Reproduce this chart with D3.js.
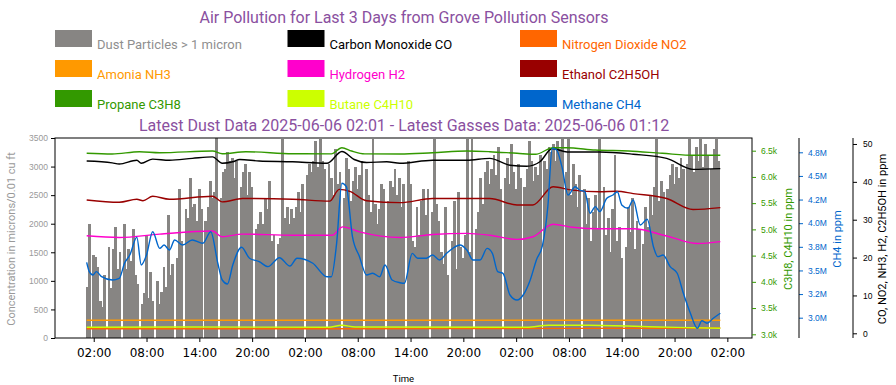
<!DOCTYPE html>
<html>
<head>
<meta charset="utf-8">
<script src="https://cdn.jsdelivr.net/npm/d3@7"></script>
<style>
body { margin: 0; background: #fff; }
</style>
</head>
<body>
<div id="chart"></div>
<script>
// first sample of the 3 day window, bars every 15 minutes
const startTime = new Date(2025, 5, 3, 1, 12);
const dustStepHours = 0.25;

const titleText = "Air Pollution for Last 3 Days from Grove Pollution Sensors";
const subtitleText = "Latest Dust Data 2025-06-06 02:01 - Latest Gasses Data: 2025-06-06 01:12";

const legendNames = ["Dust Particles > 1 micron", "Carbon Monoxide CO", "Nitrogen Dioxide NO2",
                     "Amonia NH3", "Hydrogen H2", "Ethanol C2H5OH",
                     "Propane C3H8", "Butane C4H10", "Methane CH4"];
const legendColors = ["#878583", "#000000", "#ff6600",
                      "#ff9900", "#ff00cc", "#990000",
                      "#339900", "#ccff00", "#0066cc"];
const legendTextColors = ["#8f8f8f", "#000000", "#ff6600",
                          "#ff9900", "#ff00cc", "#990000",
                          "#339900", "#ccff00", "#0066cc"];

// dust concentration (microns/0.01 cu ft), 0 = missing sample
const dustValues = [
  900, 2000, 0, 1450, 1420, 1250, 640, 540, 1100, 0, 1600, 870,
  1560, 1950, 1200, 1500, 0, 2000, 1200, 1550, 1350, 1900, 1100, 950,
  0, 600, 780, 1800, 700, 1150, 650, 0, 1000, 600, 800, 1250,
  900, 2150, 1100, 1300, 0, 1400, 2600, 1700, 0, 2250, 2100, 2800,
  2300, 2350, 2050, 2600, 2250, 0, 2050, 2300, 2750, 2450, 2550, 3500,
  0, 2450, 2900, 2950, 3250, 3100, 3150, 2800, 3100, 0, 2650, 2900,
  3050, 2500, 2900, 2650, 0, 1900, 2000, 2200, 2000, 2450, 2250, 2750,
  1700, 1800, 0, 1650, 1750, 3480, 2100, 2300, 2000, 2250, 2100, 2300,
  2550, 2200, 2700, 0, 2850, 3050, 2900, 3100, 3450, 3000, 3480, 3100,
  2950, 0, 3050, 2800, 2500, 3300, 2700, 2900, 0, 2450, 3150, 2950,
  2400, 2750, 3000, 2600, 2850, 3100, 0, 2950, 2500, 2200, 3480, 2350,
  2000, 2250, 2700, 2600, 0, 2400, 2750, 2650, 2950, 2500, 2800, 2300,
  2700, 0, 3100, 2700, 1700, 1600, 2300, 1800, 2400, 2600, 2150, 2600,
  0, 2200, 3480, 2350, 2050, 1500, 1300, 2300, 1100, 0, 1700, 2400,
  1200, 2550, 1600, 1400, 1800, 3480, 1500, 3480, 0, 1900, 2200, 2800,
  2350, 2900, 3100, 2700, 2950, 3200, 2850, 3350, 2600, 0, 2800, 3150,
  2700, 3400, 2900, 2600, 3050, 2800, 0, 2650, 2950, 3450, 3100, 2750,
  3000, 2850, 3200, 0, 3100, 2950, 3350, 3250, 3400, 3100, 3450, 3300,
  3480, 0, 2900, 3480, 2500, 3050, 2700, 2300, 2850, 0, 2600, 2000,
  2450, 1700, 2200, 2500, 1900, 3480, 0, 2650, 1800, 2100, 1500, 2250,
  3200, 1700, 1950, 1400, 0, 1600, 2300, 1850, 2450, 1550, 2050, 1900,
  0, 1650, 2300, 1950, 2500, 2150, 2650, 3480, 2400, 2750, 2550, 0,
  2600, 2850, 3050, 2700, 3000, 2800, 3150, 2950, 0, 3050, 3480, 3200,
  2900, 3350, 3100, 3480, 3000, 3400, 3200, 0, 2950, 3300, 3480, 3100
];

// gas readings as [hours since start, ppm]
const coData = [[0,45.5],[2.9,45.0],[3.7,44.7],[5.7,45.7],[6.2,44.9],[7.5,46.0],[9.4,45.7],[12.0,46.2],
  [14.3,46.6],[15.4,44.9],[16.6,45.3],[17.4,45.9],[19.6,45.5],[23.4,45.3],[27.3,44.9],[29.0,48.0],
  [30.4,45.9],[31.8,45.1],[34.1,45.3],[35.6,44.9],[39.3,45.7],[43.2,45.7],[45.8,46.2],[48.1,44.4],
  [50.0,44.1],[51.5,45.3],[52.9,48.8],[54.6,47.9],[58.3,47.9],[62.1,47.3],[65.9,46.2],[68.9,43.3],[72,43.5]];
const no2Data = [[0,1.2],[30,1.2],[55,1.3],[72,1.4]];
const nh3Data = [[0,3.43],[72,3.43]];
const h2Data = [[0,25.75],[3.7,25.3],[8.3,26.2],[14.3,27.0],[15.4,25.5],[17.7,26.2],[23.4,25.9],[27.9,25.9],
  [29.1,28.1],[31.0,26.8],[35.6,25.3],[39.3,26.1],[43.2,26.4],[45.8,25.9],[48.9,24.8],[50.7,25.5],
  [53.0,28.8],[55.2,28.0],[58.3,27.6],[62.1,27.6],[65.9,25.7],[69.4,23.7],[72,24.2]];
const ethanolData = [[0,35.2],[3.7,34.6],[5.7,35.4],[6.4,35.0],[7.5,36.2],[9.4,35.4],[14.3,36.2],[15.4,34.7],
  [17.7,35.6],[23.4,35.4],[27.6,34.9],[28.7,38.0],[29.9,37.5],[31.8,35.0],[35.6,34.5],[39.3,35.6],
  [45.8,35.6],[48.9,33.9],[50.7,33.9],[53.0,38.7],[55.2,37.8],[58.3,37.4],[60.2,37.5],[62.1,36.9],
  [65.9,35.6],[68.9,32.7],[72,33.2]];
const propaneData = [[0,6450],[2.9,6437],[6.0,6481],[8.3,6462],[14.3,6494],[15.4,6443],[18.1,6481],[23.4,6443],
  [27.8,6440],[29.0,6557],[30.1,6494],[31.6,6440],[35.6,6437],[39.3,6462],[43.2,6494],[45.8,6481],
  [48.9,6450],[51.0,6431],[53.0,6557],[54.5,6557],[57.8,6513],[61.6,6494],[65.4,6450],[69.1,6412],[72,6412]];
const butaneData = [[0,3135],[12,3140],[27.5,3135],[29,3172],[30.5,3140],[50,3135],[52.5,3172],[57,3172],
  [65,3140],[72,3114]];
const methaneData = [[0,3.586],[0.3,3.487],[0.7,3.452],[1.1,3.487],[1.7,3.434],[2.9,3.399],[3.7,3.417],[4.3,3.576],
  [4.9,3.663],[5.7,3.851],[6.2,3.558],[6.8,3.663],[7.5,3.910],[8.3,3.734],[8.8,3.769],[9.4,3.716],
  [10.0,3.822],[10.9,3.769],[12.0,3.822],[13.2,3.787],[14.1,3.910],[14.9,3.576],[15.4,3.399],[16.0,3.357],
  [16.6,3.558],[17.6,3.745],[18.5,3.629],[19.6,3.593],[20.6,3.540],[21.9,3.635],[23.1,3.547],[23.9,3.629],
  [25.7,3.576],[27.3,3.434],[27.8,3.434],[28.4,3.787],[29.0,4.422],[29.5,4.386],[30.2,3.857],[31.0,3.646],
  [31.8,3.452],[32.5,3.470],[33.3,3.434],[33.9,3.558],[34.7,3.399],[35.6,3.370],[36.1,3.364],[37.0,3.681],
  [37.6,3.629],[38.6,3.629],[39.3,3.663],[40.1,3.611],[40.9,3.681],[41.6,3.734],[42.4,3.769],[43.2,3.716],
  [43.9,3.611],[44.7,3.611],[45.5,3.734],[46.1,3.681],[46.7,3.487],[47.3,3.470],[48.1,3.240],[48.9,3.187],
  [49.6,3.240],[50.4,3.399],[51.1,3.611],[51.8,3.769],[52.4,4.175],[52.9,4.793],[53.4,4.775],[54.0,4.598],
  [54.7,4.298],[55.5,4.386],[56.0,4.351],[56.6,4.333],[57.2,4.105],[57.8,4.175],[58.3,4.122],[59.1,4.263],
  [59.8,4.298],[60.3,4.333],[60.8,4.193],[61.5,4.158],[62.1,4.246],[62.9,3.981],[63.7,4.041],[64.4,3.751],
  [64.9,3.646],[65.5,3.663],[66.3,3.540],[67.1,3.470],[67.8,3.258],[68.6,3.047],[69.4,2.888],[69.9,2.968],
  [70.5,2.941],[71.2,2.994],[72,3.047]];

// axis ticks
const dustTicks = [0, 500, 1000, 1500, 2000, 2500, 3000, 3500];
const lpgTicks = [3000, 3500, 4000, 4500, 5000, 5500, 6000, 6500];
const lpgTickLabels = ["3.0k", "3.5k", "4.0k", "4.5k", "5.0k", "5.5k", "6.0k", "6.5k"];
const ch4Ticks = [3.0e6, 3.25e6, 3.5e6, 3.75e6, 4.0e6, 4.25e6, 4.5e6, 4.75e6];
const ch4TickLabels = ["3.0M", "3.2M", "3.5M", "3.8M", "4.0M", "4.2M", "4.5M", "4.8M"];
const gasTicks = [0, 10, 20, 30, 40, 50];

const width = 896, height = 385;
const plot = {left: 55, right: 752, top: 138, bottom: 338};
const titleColor = "#8a50a0";

const hourToTime = h => new Date(startTime.getTime() + h * 3600e3);

const svg = d3.select("#chart").append("svg")
    .attr("width", width)
    .attr("height", height)
    .style("font-family", "Roboto, sans-serif");

svg.append("defs").append("clipPath")
    .attr("id", "plotClip")
    .append("rect")
    .attr("x", plot.left).attr("y", plot.top)
    .attr("width", plot.right - plot.left).attr("height", plot.bottom - plot.top);

// scales
const x = d3.scaleTime()
    .domain([hourToTime(-3.6), hourToTime(75.6)])
    .range([plot.left, plot.right]);
const yDust = d3.scaleLinear().domain([0, 3500]).range([plot.bottom, plot.top]);
const yLpg = d3.scaleLinear().domain([2929.5, 6742]).range([plot.bottom, plot.top]);
const yCh4 = d3.scaleLinear().domain([2.7852e6, 4.9013e6]).range([plot.bottom, plot.top]);
const yGas = d3.scaleLinear().domain([-1.24, 51.58]).range([plot.bottom, plot.top]);

// titles
svg.append("text")
    .attr("x", 404).attr("y", 23)
    .attr("text-anchor", "middle")
    .style("font-size", "16px")
    .attr("fill", titleColor)
    .text(titleText);
svg.append("text")
    .attr("x", 404).attr("y", 131)
    .attr("text-anchor", "middle")
    .style("font-size", "16px")
    .attr("fill", titleColor)
    .text(subtitleText);

// legend, 3 columns
const legendCols = [55, 287.5, 520];
const legendRows = [30, 60, 90];
legendNames.forEach(function(name, i) {
    let lx = legendCols[i % 3], ly = legendRows[Math.floor(i / 3)];
    svg.append("rect")
        .attr("x", lx).attr("y", ly)
        .attr("width", 37).attr("height", 17)
        .attr("fill", legendColors[i]);
    svg.append("text")
        .attr("x", lx + 42).attr("y", ly + 18.5)
        .style("font-size", "13px")
        .attr("fill", legendTextColors[i])
        .text(name);
});

// dust bars
const barW = x(hourToTime(dustStepHours)) - x(hourToTime(0));
svg.append("g")
    .attr("clip-path", "url(#plotClip)")
    .selectAll("rect")
    .data(dustValues)
    .join("rect")
    .attr("x", (d, i) => x(hourToTime(i * dustStepHours)) - barW / 2)
    .attr("y", d => yDust(d))
    .attr("width", barW + 0.6)
    .attr("height", d => yDust(0) - yDust(d))
    .attr("fill", legendColors[0])
    .attr("shape-rendering", "crispEdges");

// gas lines
const gasSeries = [
    {data: coData, scale: yGas, color: legendColors[1]},
    {data: no2Data, scale: yGas, color: legendColors[2]},
    {data: nh3Data, scale: yGas, color: legendColors[3]},
    {data: h2Data, scale: yGas, color: legendColors[4]},
    {data: ethanolData, scale: yGas, color: legendColors[5]},
    {data: propaneData, scale: yLpg, color: legendColors[6]},
    {data: butaneData, scale: yLpg, color: legendColors[7]},
    {data: methaneData.map(d => [d[0], d[1] * 1e6]), scale: yCh4, color: legendColors[8]}
];
const lineGroup = svg.append("g").attr("clip-path", "url(#plotClip)");
gasSeries.forEach(function(s) {
    let line = d3.line()
        .x(d => x(hourToTime(d[0])))
        .y(d => s.scale(d[1]))
        .curve(d3.curveMonotoneX);
    lineGroup.append("path")
        .datum(s.data)
        .attr("d", line)
        .attr("fill", "none")
        .attr("stroke", s.color)
        .attr("stroke-width", 1.4)
        .attr("stroke-linejoin", "round");
});

// frame
svg.append("rect")
    .attr("x", plot.left).attr("y", plot.top)
    .attr("width", plot.right - plot.left).attr("height", plot.bottom - plot.top)
    .attr("fill", "none")
    .attr("stroke", "#000")
    .attr("stroke-width", 1);

// x axis
const xTicks = d3.timeHour.range(x.domain()[0], x.domain()[1]).filter(d => d.getHours() % 6 === 2);
const xAxis = svg.append("g")
    .attr("transform", `translate(0,${plot.bottom})`)
    .call(d3.axisBottom(x).tickValues(xTicks).tickFormat(d3.timeFormat("%H:%M")).tickSize(4).tickPadding(6).tickSizeOuter(0));
xAxis.select(".domain").remove();
xAxis.selectAll("text")
    .style("font-family", "'DejaVu Sans', sans-serif")
    .style("font-size", "12px")
    .attr("fill", "#000");
svg.append("text")
    .attr("x", 403.5).attr("y", 382)
    .attr("text-anchor", "middle")
    .style("font-size", "9.5px")
    .attr("fill", "#000")
    .text("Time");

// left axis (dust)
const leftAxis = svg.append("g")
    .attr("transform", `translate(${plot.left},0)`)
    .call(d3.axisLeft(yDust).tickValues(dustTicks).tickFormat(d3.format("d")).tickSize(4).tickPadding(3).tickSizeOuter(0));
leftAxis.select(".domain").remove();
leftAxis.selectAll("text")
    .style("font-size", "8.5px")
    .attr("fill", "#999");
svg.append("text")
    .attr("transform", "translate(15,239) rotate(-90)")
    .attr("text-anchor", "middle")
    .style("font-size", "11px")
    .attr("fill", "#999")
    .text("Concentration in microns/0.01 cu ft");

// right axes
function rightAxis(props) {
    let g = svg.append("g")
        .attr("transform", `translate(${props.x},0)`)
        .call(d3.axisRight(props.scale)
            .tickValues(props.ticks)
            .tickFormat((d, i) => props.labels[i])
            .tickSize(4).tickPadding(props.pad).tickSizeOuter(0));
    g.select(".domain").remove();
    if (props.spine) {
        g.append("line")
            .attr("y1", plot.top).attr("y2", plot.bottom)
            .attr("stroke", "#000");
    }
    g.selectAll(".tick line").attr("stroke", props.color);
    g.selectAll("text")
        .style("font-size", "8.5px")
        .attr("fill", props.color);
    svg.append("text")
        .attr("transform", `translate(${props.labelX},239) rotate(-90)`)
        .attr("text-anchor", "middle")
        .style("font-size", "11px")
        .attr("fill", props.color)
        .text(props.title);
}

rightAxis({x: plot.right, scale: yLpg, ticks: lpgTicks, labels: lpgTickLabels, pad: 5,
           color: "#339900", spine: false, labelX: 792, title: "C3H8, C4H10 in ppm"});
rightAxis({x: 799, scale: yCh4, ticks: ch4Ticks, labels: ch4TickLabels, pad: 5,
           color: "#0066cc", spine: true, labelX: 841, title: "CH4 in ppm"});
rightAxis({x: 853, scale: yGas, ticks: gasTicks, labels: gasTicks.map(String), pad: 6,
           color: "#000", spine: true, labelX: 886, title: "CO, NO2, NH3, H2, C2H5OH in ppm"});
</script>
</body>
</html>
